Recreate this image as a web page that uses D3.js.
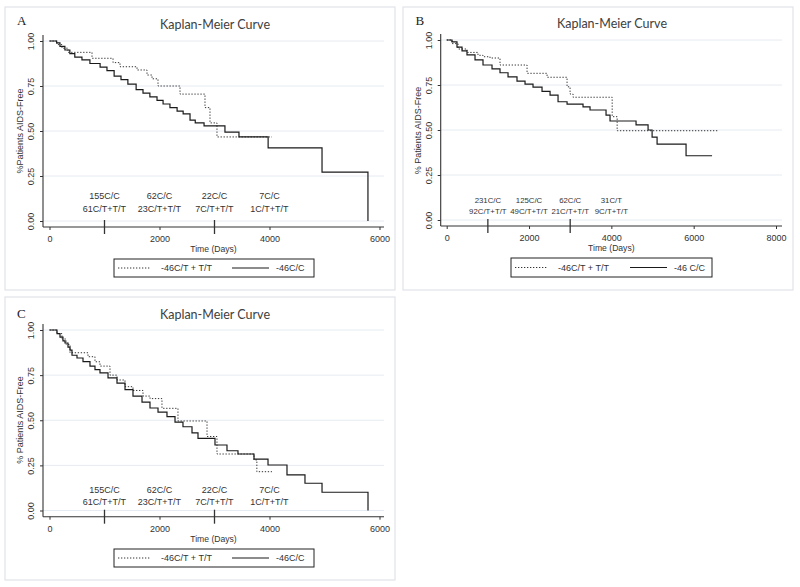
<!DOCTYPE html>
<html>
<head>
<meta charset="utf-8">
<script src="https://cdn.jsdelivr.net/npm/d3@7"></script>
<style>
  body { margin: 0; background: #fff; }
  text { font-family: "Liberation Sans", Arial, sans-serif; fill: #333; }
</style>
</head>
<body>
<svg width="800" height="587"></svg>
<script>
// ---- data ----
var yTicks = [0, 0.25, 0.5, 0.75, 1];
var xTicksAC = [0, 2000, 4000, 6000];
var xTicksB = [0, 2000, 4000, 6000, 8000];
var riskTimes = [1000, 2000, 3000, 4000];
var markTimes = [1000, 3000];

// panel A
var timeA_CC = [0, 130, 190, 280, 370, 460, 590, 735, 920, 1045, 1175, 1300, 1425, 1575, 1700, 1825, 1955, 2065, 2190, 2320, 2430, 2555, 2650, 2810, 3190, 3445, 3975, 4955, 5790];
var survA_CC = [1, 0.99, 0.97, 0.95, 0.93, 0.91, 0.895, 0.875, 0.855, 0.835, 0.805, 0.785, 0.76, 0.73, 0.71, 0.69, 0.67, 0.65, 0.63, 0.61, 0.595, 0.56, 0.545, 0.528, 0.494, 0.467, 0.406, 0.272, 0];
var timeA_CT = [0, 136, 227, 336, 773, 1155, 1282, 1591, 1773, 1864, 1973, 2373, 2827, 2918, 3045, 4045];
var survA_CT = [1, 0.98, 0.96, 0.937, 0.904, 0.88, 0.857, 0.839, 0.811, 0.79, 0.75, 0.705, 0.63, 0.545, 0.467, 0.467];
var riskA_CC = ["155C/C", "62C/C", "22C/C", "7C/C"];
var riskA_CT = ["61C/T+T/T", "23C/T+T/T", "7C/T+T/T", "1C/T+T/T"];

// panel B
var timeB_CC = [0, 129, 250, 372, 493, 688, 882, 1101, 1295, 1490, 1708, 1903, 2097, 2316, 2511, 2705, 2924, 3312, 3482, 3871, 3968, 4600, 4892, 4990, 5111, 5815, 6447];
var survB_CC = [1, 0.99, 0.96, 0.94, 0.917, 0.89, 0.861, 0.84, 0.818, 0.795, 0.772, 0.755, 0.738, 0.715, 0.694, 0.657, 0.644, 0.628, 0.611, 0.583, 0.55, 0.528, 0.5, 0.46, 0.422, 0.357, 0.357];
var timeB_CT = [0, 129, 275, 493, 760, 882, 1052, 1295, 1952, 2438, 2924, 2997, 3070, 4020, 4141, 6594];
var survB_CT = [1, 0.98, 0.95, 0.931, 0.915, 0.907, 0.9, 0.861, 0.815, 0.793, 0.74, 0.7, 0.682, 0.574, 0.496, 0.496];
var riskB_CC = ["231C/C", "125C/C", "62C/C", "31C/T"];
var riskB_CT = ["92C/T+T/T", "49C/T+T/T", "21C/T+T/T", "9C/T+T/T"];

// panel C
var timeC_CC = [0, 136, 191, 245, 282, 336, 373, 409, 500, 609, 736, 827, 918, 1064, 1227, 1373, 1518, 1682, 1827, 1973, 2136, 2282, 2427, 2591, 2700, 3009, 3227, 3427, 3718, 3973, 4318, 4645, 4955, 5791];
var survC_CC = [1, 0.98, 0.96, 0.94, 0.928, 0.905, 0.889, 0.86, 0.845, 0.825, 0.8, 0.78, 0.762, 0.735, 0.706, 0.67, 0.634, 0.6, 0.568, 0.545, 0.52, 0.49, 0.464, 0.43, 0.4, 0.363, 0.331, 0.313, 0.285, 0.252, 0.197, 0.151, 0.101, 0];
var timeC_CT = [0, 136, 227, 300, 373, 700, 827, 918, 1100, 1227, 1373, 1518, 1700, 1827, 2045, 2336, 2864, 3045, 3718, 3770, 4045];
var survC_CT = [1, 0.98, 0.95, 0.92, 0.874, 0.852, 0.824, 0.8, 0.75, 0.723, 0.686, 0.665, 0.634, 0.62, 0.566, 0.496, 0.41, 0.313, 0.28, 0.215, 0.215];
var riskC_CC = ["155C/C", "62C/C", "22C/C", "7C/C"];
var riskC_CT = ["61C/T+T/T", "23C/T+T/T", "7C/T+T/T", "1C/T+T/T"];

var svg = d3.select('svg');

function drawPanel(p) {
    var x = d3.scaleLinear().domain([0, p.xMax]).range(p.xRange);
    var y = d3.scaleLinear().domain([0, 1]).range(p.yRange);

    // outer frame
    svg.append('rect')
        .attr('x', p.frame[0]).attr('y', p.frame[1])
        .attr('width', p.frame[2]).attr('height', p.frame[3])
        .attr('fill', 'none').attr('stroke', '#e2e3ea').attr('stroke-width', 1.2);

    svg.append('text')
        .attr('x', p.letter[0]).attr('y', p.letter[1])
        .style('font-family', '"Liberation Serif", "Times New Roman", serif')
        .style('font-size', '13px').style('fill', '#222')
        .text(p.name);

    svg.append('text')
        .attr('x', p.title[0]).attr('y', p.title[1])
        .attr('text-anchor', 'middle')
        .style('font-family', 'Lato, "Open Sans", sans-serif')
        .style('font-size', '12.5px').style('fill', '#404040')
        .text('Kaplan-Meier Curve');

    var g = svg.append('g');

    // gridlines
    g.selectAll('line.grid')
        .data(yTicks)
        .enter()
        .append('line')
        .attr('x1', p.left).attr('x2', p.right)
        .attr('y1', function (d) { return y(d); })
        .attr('y2', function (d) { return y(d); })
        .attr('stroke', '#e6ebf1').attr('stroke-width', 1);

    // y axis
    var yAxis = d3.axisLeft(y).tickValues(yTicks).tickSize(3).tickSizeOuter(0)
        .tickFormat(d3.format('.2f'));
    var ya = g.append('g').attr('transform', 'translate(' + p.left + ',0)').call(yAxis);
    ya.select('.domain').remove();
    ya.selectAll('.tick line').attr('stroke', '#333');
    ya.selectAll('.tick text')
        .attr('transform', 'rotate(-90)')
        .attr('x', 0).attr('y', -9).attr('dy', 0)
        .attr('text-anchor', 'middle')
        .style('font-size', '9px').style('fill', '#333');

    // x axis
    var xAxis = d3.axisBottom(x).tickValues(p.xTicks).tickSize(3).tickSizeOuter(0)
        .tickPadding(6).tickFormat(d3.format('d'));
    var xa = g.append('g').attr('transform', 'translate(0,' + p.axisY + ')').call(xAxis);
    xa.select('.domain').remove();
    xa.selectAll('.tick line').attr('stroke', '#333');
    xa.selectAll('.tick text').style('font-size', '9px').style('fill', '#333');

    // axis lines
    g.append('line')
        .attr('x1', p.left).attr('x2', p.left)
        .attr('y1', p.top).attr('y2', p.axisY)
        .attr('stroke', '#333').attr('stroke-width', 1.1);
    g.append('line')
        .attr('x1', p.left).attr('x2', p.right)
        .attr('y1', p.axisY).attr('y2', p.axisY)
        .attr('stroke', '#333').attr('stroke-width', 1.1);

    // markers at 1000 and 3000 days
    g.selectAll('line.mark')
        .data(markTimes)
        .enter()
        .append('line')
        .attr('x1', function (d) { return x(d); })
        .attr('x2', function (d) { return x(d); })
        .attr('y1', p.axisY - 7).attr('y2', p.axisY + 7)
        .attr('stroke', '#333').attr('stroke-width', 1.3);

    // numbers at risk
    g.selectAll('text.r1')
        .data(p.risk1)
        .enter()
        .append('text')
        .attr('x', function (d, i) { return x(riskTimes[i]); })
        .attr('y', p.axisY + p.riskDy[0])
        .attr('text-anchor', 'middle')
        .style('font-size', p.riskFont)
        .text(function (d) { return d; });
    g.selectAll('text.r2')
        .data(p.risk2)
        .enter()
        .append('text')
        .attr('x', function (d, i) { return x(riskTimes[i]); })
        .attr('y', p.axisY + p.riskDy[1])
        .attr('text-anchor', 'middle')
        .style('font-size', p.riskFont)
        .text(function (d) { return d; });

    // curves
    var line = d3.line()
        .x(function (d) { return x(d[0]); })
        .y(function (d) { return y(d[1]); })
        .curve(d3.curveStepAfter);

    g.append('path')
        .datum(d3.zip(p.tCT, p.sCT))
        .attr('fill', 'none')
        .attr('stroke', '#333')
        .attr('stroke-width', 1)
        .attr('stroke-dasharray', '1.3,1.7')
        .attr('d', line);

    g.append('path')
        .datum(d3.zip(p.tCC, p.sCC))
        .attr('fill', 'none')
        .attr('stroke', '#1a1a1a')
        .attr('stroke-width', 1.2)
        .attr('d', line);

    // axis titles
    g.append('text')
        .attr('transform', 'translate(' + p.yTitle[0] + ',' + p.yTitle[1] + ') rotate(-90)')
        .attr('text-anchor', 'middle')
        .style('font-size', '9px')
        .text(p.yLabel);
    g.append('text')
        .attr('x', (p.left + p.right) / 2).attr('y', p.axisY + 25)
        .attr('text-anchor', 'middle')
        .style('font-size', '8.6px')
        .text('Time (Days)');

    // legend
    var L = p.legend;
    var lg = svg.append('g').attr('transform', 'translate(' + L[0] + ',' + L[1] + ')');
    lg.append('rect')
        .attr('width', L[2]).attr('height', L[3])
        .attr('fill', '#fff').attr('stroke', '#222').attr('stroke-width', 1);
    lg.append('line')
        .attr('x1', 4).attr('x2', 37).attr('y1', L[3] / 2).attr('y2', L[3] / 2)
        .attr('stroke', '#333').attr('stroke-width', 1).attr('stroke-dasharray', '1.3,1.7');
    lg.append('text')
        .attr('x', 47).attr('y', L[3] / 2 + 3.2)
        .style('font-size', '9px')
        .text('-46C/T + T/T');
    lg.append('line')
        .attr('x1', L[2] - 82).attr('x2', L[2] - 45).attr('y1', L[3] / 2).attr('y2', L[3] / 2)
        .attr('stroke', '#1a1a1a').attr('stroke-width', 1.2);
    lg.append('text')
        .attr('x', L[2] - 38).attr('y', L[3] / 2 + 3.2)
        .style('font-size', '9px')
        .text(p.ccLabel);
}

drawPanel({
    name: 'A', frame: [5, 7, 390, 283], letter: [17, 25], title: [215, 29],
    xMax: 6000, xRange: [49.5, 379.5], yRange: [221, 41], xTicks: xTicksAC,
    left: 43, right: 384, top: 35, axisY: 227,
    riskDy: [-28, -15], riskFont: '9px', risk1: riskA_CC, risk2: riskA_CT,
    tCC: timeA_CC, sCC: survA_CC, tCT: timeA_CT, sCT: survA_CT,
    yLabel: '%Patients AIDS-Free', yTitle: [23, 131],
    legend: [114, 259, 200, 18], ccLabel: '-46C/C'
});

drawPanel({
    name: 'B', frame: [403, 7, 390, 283], letter: [415.5, 25], title: [612, 28],
    xMax: 8000, xRange: [446.7, 776], yRange: [220, 40], xTicks: xTicksB,
    left: 440.7, right: 782, top: 34, axisY: 226,
    riskDy: [-23, -12], riskFont: '7.8px', risk1: riskB_CC, risk2: riskB_CT,
    tCC: timeB_CC, sCC: survB_CC, tCT: timeB_CT, sCT: survB_CT,
    yLabel: '% Patients AIDS-Free', yTitle: [421, 130.5],
    legend: [511, 258, 201, 19], ccLabel: '-46 C/C'
});

drawPanel({
    name: 'C', frame: [5, 297, 390, 283], letter: [17, 318], title: [215, 319],
    xMax: 6000, xRange: [49.5, 379.5], yRange: [510.5, 330], xTicks: xTicksAC,
    left: 43, right: 384, top: 324, axisY: 516.7,
    riskDy: [-23.7, -11.7], riskFont: '9px', risk1: riskC_CC, risk2: riskC_CT,
    tCC: timeC_CC, sCC: survC_CC, tCT: timeC_CT, sCT: survC_CT,
    yLabel: '% Patients AIDS-Free', yTitle: [23, 420],
    legend: [114, 549, 200, 18], ccLabel: '-46C/C'
});
</script>
</body>
</html>
